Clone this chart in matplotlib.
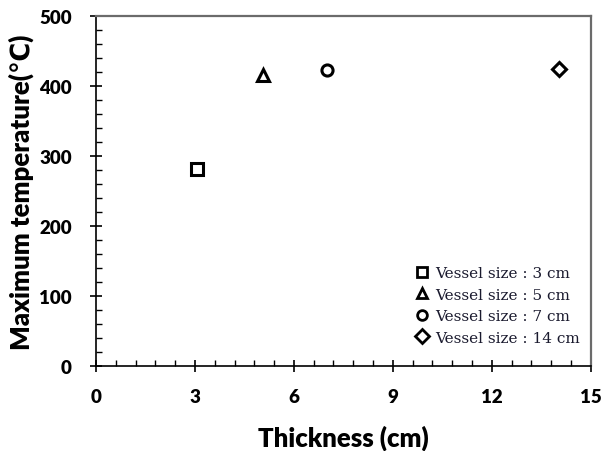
import matplotlib
matplotlib.use("Agg")
import matplotlib.pyplot as plt
from matplotlib.ticker import MultipleLocator

# Measured maximum temperature for each vessel size
thickness = [3.05, 5.05, 7.0, 14.05]
max_temp = [281, 416, 423, 424]
series_labels = ["Vessel size : 3 cm", "Vessel size : 5 cm",
                 "Vessel size : 7 cm", "Vessel size : 14 cm"]
markers = ["s", "^", "o", "D"]
marker_sizes = [8, 8.5, 8, 7]

x_ticks = [0, 3, 6, 9, 12, 15]
y_ticks = [0, 100, 200, 300, 400, 500]

fig = plt.figure(figsize=(6.02, 4.52), dpi=100)
ax = fig.add_axes([0.1595, 0.188, 0.8217, 0.775])

for x, y, lab, m, ms in zip(thickness, max_temp, series_labels, markers, marker_sizes):
    ax.plot([x], [y], linestyle="none", marker=m, markersize=ms,
            markerfacecolor="white", markeredgecolor="black",
            markeredgewidth=2.2, label=lab)

ax.set_xlim(0, 15)
ax.set_ylim(0, 500)
ax.set_xticks(x_ticks)
ax.set_yticks(y_ticks)
ax.xaxis.set_minor_locator(MultipleLocator(0.6))
ax.yaxis.set_minor_locator(MultipleLocator(20))

ax.tick_params(which="major", direction="inout", length=9, width=1.2,
               labelsize=13.5)
ax.tick_params(which="minor", direction="in", length=4.5, width=1.0)
ax.tick_params(axis="x", pad=11)
ax.tick_params(axis="y", pad=13)

tick_font = "Lato"
for lbl in ax.get_xticklabels() + ax.get_yticklabels():
    lbl.set_fontfamily(tick_font)
    lbl.set_fontweight("heavy")

for side in ("left", "bottom"):
    ax.spines[side].set_color("black")
    ax.spines[side].set_linewidth(1.2)
for side in ("top", "right"):
    ax.spines[side].set_color("#6b6b6b")
    ax.spines[side].set_linewidth(1.6)

ax.set_xlabel("Thickness (cm)", fontfamily=tick_font, fontweight="heavy",
              fontsize=18.5, labelpad=14)
ax.set_ylabel("Maximum temperature(\u2103)",
              fontfamily=[tick_font, "DejaVu Sans"], fontweight="heavy",
              fontsize=18.5, labelpad=4)

leg = ax.legend(loc="lower right", bbox_to_anchor=(1.0, 0.03),
                frameon=False, handlelength=0.6, handletextpad=0.55,
                labelspacing=0.5, borderaxespad=0.3,
                prop={"family": "DejaVu Serif", "size": 11})
for h in leg.legend_handles:
    h.set_markersize(7)
    h.set_markeredgewidth(2.0)
for t in leg.get_texts():
    t.set_color("#1a1a2e")

fig.savefig("out.png", dpi=100, facecolor="white")
